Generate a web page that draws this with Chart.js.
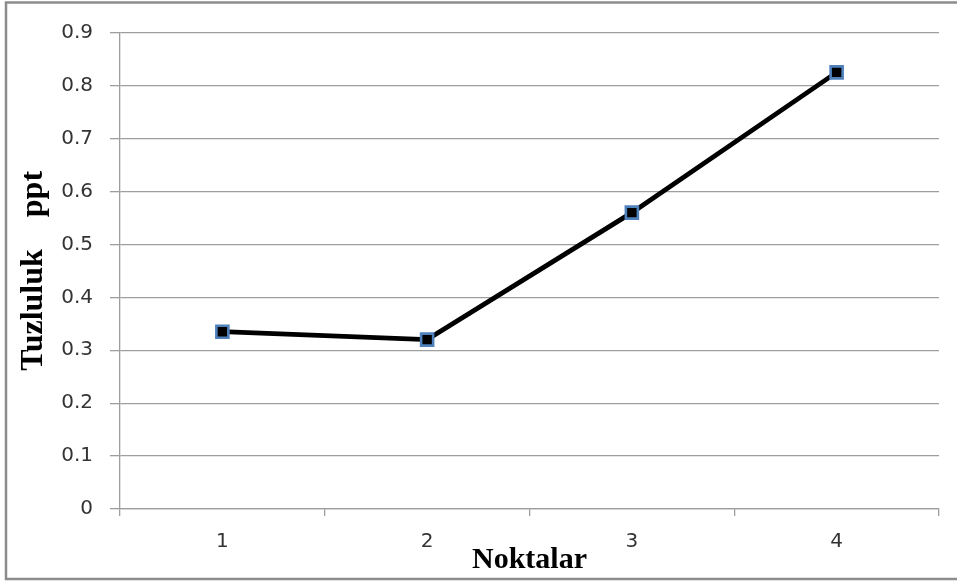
<!DOCTYPE html>
<html>
<head>
<meta charset="utf-8">
<script src="https://cdn.jsdelivr.net/npm/chart.js@4/dist/chart.umd.min.js"></script>
<style>
html,body{margin:0;padding:0;background:#fff;}
#wrap{width:957px;height:583px;}
</style>
</head>
<body>
<div id="wrap"><canvas id="c" width="957" height="583"></canvas></div>
<script>
const categories = ['1', '2', '3', '4'];
const salinity = [0.335, 0.32, 0.56, 0.825];
const yTickValues = [0, 0.1, 0.2, 0.3, 0.4, 0.5, 0.6, 0.7, 0.8, 0.9];
const xTitle = 'Noktalar';
const yTitle = 'Tuzluluk    ppt';

const frame = {
  id: 'frame',
  beforeDraw(chart) {
    const ctx = chart.ctx;
    ctx.save();
    ctx.fillStyle = '#ffffff';
    ctx.fillRect(0, 0, chart.width, chart.height);
    ctx.restore();
  },
  afterDraw(chart) {
    const ctx = chart.ctx;
    ctx.save();
    ctx.strokeStyle = '#8c8c8c';
    ctx.lineWidth = 2.5;
    ctx.beginPath();
    ctx.moveTo(chart.width + 2, 2.5);
    ctx.lineTo(6, 2.5);
    ctx.lineTo(6, 579);
    ctx.lineTo(chart.width + 2, 579);
    ctx.stroke();
    ctx.restore();
  }
};

new Chart(document.getElementById('c'), {
  type: 'line',
  data: {
    labels: categories,
    datasets: [{
      data: salinity,
      borderColor: '#000000',
      borderWidth: 4.8,
      tension: 0,
      pointStyle: 'rect',
      pointRadius: 8.5,
      pointHoverRadius: 8.5,
      pointBackgroundColor: '#000000',
      pointBorderColor: '#4f81bd',
      pointBorderWidth: 2.6
    }]
  },
  options: {
    responsive: false,
    animation: false,
    devicePixelRatio: 1,
    layout: { padding: { left: 0, right: 18, top: 32.7, bottom: 0 } },
    plugins: { legend: { display: false }, tooltip: { enabled: false } },
    scales: {
      x: {
        type: 'category',
        offset: true,
        afterFit(scale) { scale.height = 74; },
        grid: {
          offset: true,
          drawOnChartArea: false,
          drawTicks: true,
          tickLength: 7,
          color: '#9e9e9e',
          lineWidth: 1.3
        },
        border: { display: true, color: '#9e9e9e', width: 1.3 },
        ticks: {
          color: '#333333',
          font: { family: 'DejaVu Sans', size: 20 },
          padding: 14,
          maxRotation: 0
        },
        title: {
          display: true,
          text: xTitle,
          color: '#000000',
          font: { family: 'Liberation Serif', size: 30, weight: 'bold' },
          padding: { top: 0, bottom: 5 }
        }
      },
      y: {
        min: 0,
        max: 0.9,
        afterFit(scale) { scale.width = 120; },
        afterBuildTicks(scale) { scale.ticks = yTickValues.map(v => ({ value: v })); },
        grid: {
          color: '#9e9e9e',
          lineWidth: 1.3,
          drawTicks: true,
          tickLength: 10
        },
        border: { display: true, color: '#9e9e9e', width: 1.3 },
        ticks: {
          color: '#333333',
          font: { family: 'DejaVu Sans', size: 20 },
          padding: 17,
          callback: (v) => String(Math.round(v * 10) / 10)
        },
        title: {
          display: true,
          text: yTitle,
          color: '#000000',
          font: { family: 'Liberation Serif', size: 32, weight: 'bold' },
          padding: { top: 15, bottom: 0 }
        }
      }
    }
  },
  plugins: [frame]
});
</script>
</body>
</html>
